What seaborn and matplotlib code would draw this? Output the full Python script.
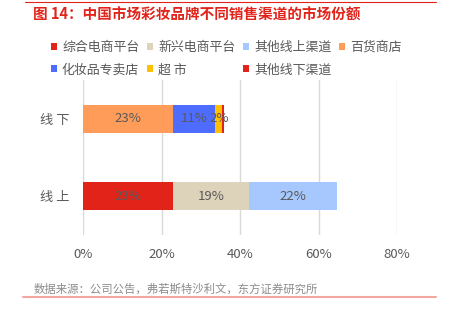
import matplotlib
matplotlib.use("Agg")
import matplotlib.pyplot as plt
import seaborn as sns
import pandas as pd
import numpy as np
from matplotlib.patches import Patch
from matplotlib.lines import Line2D

sns.set_theme(style="white")
plt.rcParams['font.family'] = ['Noto Sans CJK SC', 'DejaVu Sans']

categories = ["线 下", "线 上"]
series = ["综合电商平台", "新兴电商平台", "其他线上渠道", "百货商店", "化妆品专卖店", "超 市", "其他线下渠道"]
offline = [0.0, 0.0, 0.0, 0.23, 0.107, 0.018, 0.005]
online = [0.23, 0.194, 0.222, 0.0, 0.0, 0.0, 0.0]
colors = ["#E2231A", "#DDD3BA", "#A6C8FF", "#FF9C59", "#4E6CFF", "#FFC000", "#E2231A"]
ticks = [0, 0.2, 0.4, 0.6, 0.8]
tick_labels = ["0%", "20%", "40%", "60%", "80%"]

fig = plt.figure(figsize=(4.5, 3.15), dpi=100)
ax = fig.add_axes([83/450, 1-235/315, (397-83)/450, 155/315])

vals = np.array([offline, online])  # rows: categories
cum = np.cumsum(vals, axis=1)

# draw cumulative bars from last series to first (stacking)
for i in reversed(range(len(series))):
    df = pd.DataFrame({"cat": categories, "val": cum[:, i]})
    sns.barplot(data=df, x="val", y="cat", order=categories, color=colors[i],
                saturation=1, width=0.36, ax=ax, orient="h", linewidth=0)
if ax.get_legend() is not None:
    ax.get_legend().remove()

# labels
for r in range(len(categories)):
    for i in range(len(series)):
        v = vals[r, i]
        if v >= 0.01:
            mid = cum[r, i] - v / 2
            ax.text(mid, r, f"{round(v*100):.0f}%", ha="center", va="center",
                    fontsize=9.5, color="#595959")

ax.set_xlim(0, 0.8)
ax.set_ylim(1.5, -0.5)
ax.set_xticks(ticks)
ax.set_xticklabels(tick_labels)
ax.set_xlabel("")
ax.set_ylabel("")
ax.grid(axis="x", color="#D9D9D9", linewidth=1)
ax.set_axisbelow(True)
for s in ax.spines.values():
    s.set_visible(False)
ax.tick_params(axis="x", length=0, pad=9, labelsize=9.5, labelcolor="#595959")
ax.tick_params(axis="y", length=0, pad=10, labelsize=9.5, labelcolor="#595959")

# legend
handles = [Patch(facecolor=c, edgecolor="none") for c in colors]
order = [0, 4, 1, 5, 2, 6, 3]
leg = fig.legend([handles[k] for k in order], [series[k] for k in order],
                 ncol=4, loc="upper left", bbox_to_anchor=(51/450, 1-41/315),
                 frameon=False, fontsize=9.3, handlelength=0.5, handleheight=0.5,
                 handletextpad=0.35, columnspacing=0.6, labelspacing=0.72,
                 borderaxespad=0, borderpad=0)
for t in leg.get_texts():
    t.set_color("#595959")

# title & decorations
fig.add_artist(Line2D([25/450, 436/450], [1-2/315, 1-2/315], color="#E2231A", linewidth=0.8))
fig.text(33/450, 1-15/315, "图 14：中国市场彩妆品牌不同销售渠道的市场份额", color="#E2231A",
         fontsize=10.5, fontweight="bold", ha="left", va="center")
fig.text(34/450, 1-289/315, "数据来源：公司公告，弗若斯特沙利文，东方证券研究所", color="#8C8C8C",
         fontsize=8.2, ha="left", va="center")
fig.add_artist(Line2D([23/450, 436/450], [1-297/315, 1-297/315], color="#F4A6A0", linewidth=1.5))

fig.savefig("out.png", dpi=100)
